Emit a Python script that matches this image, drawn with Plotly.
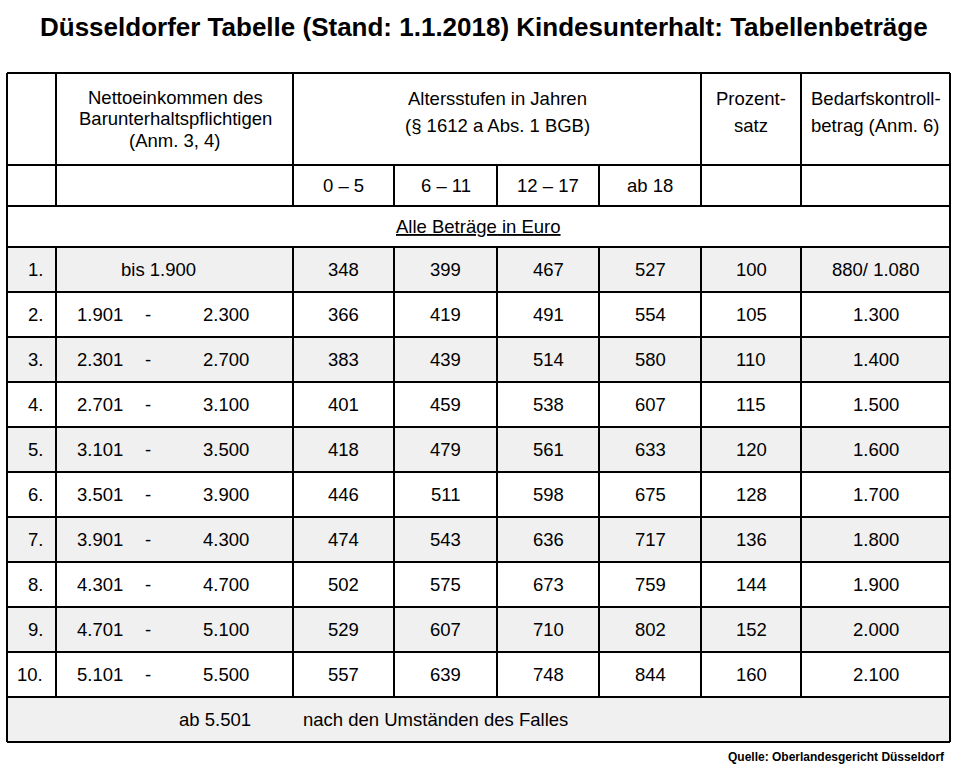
import plotly.graph_objs as go

title = "Düsseldorfer Tabelle (Stand: 1.1.2018) Kindesunterhalt: Tabellenbeträge"
source = "Quelle: Oberlandesgericht Düsseldorf"

stufen = ["1.", "2.", "3.", "4.", "5.", "6.", "7.", "8.", "9.", "10."]
einkommen_von = [None, "1.901", "2.301", "2.701", "3.101", "3.501", "3.901", "4.301", "4.701", "5.101"]
einkommen_bis = ["1.900", "2.300", "2.700", "3.100", "3.500", "3.900", "4.300", "4.700", "5.100", "5.500"]
altersstufen = ["0 – 5", "6 – 11", "12 – 17", "ab 18"]
betrag_0_5 = [348, 366, 383, 401, 418, 446, 474, 502, 529, 557]
betrag_6_11 = [399, 419, 439, 459, 479, 511, 543, 575, 607, 639]
betrag_12_17 = [467, 491, 514, 538, 561, 598, 636, 673, 710, 748]
betrag_ab_18 = [527, 554, 580, 607, 633, 675, 717, 759, 802, 844]
prozentsatz = [100, 105, 110, 115, 120, 128, 136, 144, 152, 160]
bedarfskontrollbetrag = ["880/ 1.080", "1.300", "1.400", "1.500", "1.600",
                         "1.700", "1.800", "1.900", "2.000", "2.100"]

# layout of the grid (pixel units)
col_x = [7, 56, 293, 394, 497, 599, 701, 801, 950]
row_y = [73, 165, 206, 247] + [247 + 45 * (i + 1) for i in range(10)] + [742]
FONT = "Liberation Sans, Arial, sans-serif"
GREY = "#f0f0f0"
LW = 2
BODY = 18.5

shapes = []
annotations = []


def text(x, y, s, size=BODY, anchor="center", bold=False):
    annotations.append(dict(x=x, y=y, xref="x", yref="y", text=f"<b>{s}</b>" if bold else s,
                            showarrow=False, xanchor=anchor, yanchor="middle",
                            font=dict(family=FONT, size=size, color="black")))


def line(x0, y0, x1, y1):
    shapes.append(dict(type="line", xref="x", yref="y", x0=x0, y0=y0, x1=x1, y1=y1,
                       line=dict(color="black", width=LW)))


def mid(a, b):
    return (a + b) / 2


# shaded rows
for i in range(len(stufen)):
    if i % 2 == 0:
        shapes.append(dict(type="rect", xref="x", yref="y", x0=col_x[0], x1=col_x[-1],
                           y0=row_y[3 + i], y1=row_y[4 + i], fillcolor=GREY, line_width=0, layer="below"))
shapes.append(dict(type="rect", xref="x", yref="y", x0=col_x[0], x1=col_x[-1],
                   y0=row_y[-2], y1=row_y[-1], fillcolor=GREY, line_width=0, layer="below"))

# horizontal lines
for y in row_y:
    line(col_x[0], y, col_x[-1], y)
# outer verticals
line(col_x[0], row_y[0], col_x[0], row_y[-1])
line(col_x[-1], row_y[0], col_x[-1], row_y[-1])
# inner verticals
for j, x in enumerate(col_x[1:-1], start=1):
    top = row_y[1] if j in (3, 4, 5) else row_y[0]
    line(x, top, x, row_y[2])
    line(x, row_y[3], x, row_y[-2])

# header texts
hy = row_y[0]
text(175, hy + 24, "Nettoeinkommen des")
text(175, hy + 45, "Barunterhaltspflichtigen")
text(175, hy + 67, "(Anm. 3, 4)")
text(mid(col_x[2], col_x[6]), hy + 25, "Altersstufen in Jahren")
text(mid(col_x[2], col_x[6]), hy + 52, "(§ 1612 a Abs. 1 BGB)")
text(mid(col_x[6], col_x[7]), hy + 25, "Prozent-")
text(mid(col_x[6], col_x[7]), hy + 52, "satz")
text(mid(col_x[7], col_x[8]), hy + 25, "Bedarfskontroll-")
text(mid(col_x[7], col_x[8]), hy + 52, "betrag (Anm. 6)")
for k, a in enumerate(altersstufen):
    text(mid(col_x[2 + k], col_x[3 + k]), mid(row_y[1], row_y[2]), a)
text(478, mid(row_y[2], row_y[3]), "<u>Alle Beträge in Euro</u>")

# body
columns = [betrag_0_5, betrag_6_11, betrag_12_17, betrag_ab_18, prozentsatz, bedarfskontrollbetrag]
for i, s in enumerate(stufen):
    yc = mid(row_y[3 + i], row_y[4 + i])
    text(45, yc, s, anchor="right")
    if einkommen_von[i] is None:
        text(158, yc, "bis " + einkommen_bis[i])
    else:
        text(75, yc, einkommen_von[i], anchor="left")
        text(148, yc, "-")
        text(251, yc, einkommen_bis[i], anchor="right")
    for k, col in enumerate(columns):
        text(mid(col_x[2 + k], col_x[3 + k]), yc, col[i])

# footer row
fy = mid(row_y[-2], row_y[-1])
text(215, fy, "ab 5.501")
text(301, fy, "nach den Umständen des Falles", anchor="left")

# title and source
text(484, 27, title, size=26, bold=True)
text(947, 757, source, size=12, anchor="right", bold=True)

fig = go.Figure()
fig.update_layout(
    width=956, height=772,
    margin=dict(l=0, r=0, t=0, b=0),
    paper_bgcolor="white", plot_bgcolor="white",
    xaxis=dict(range=[0, 956], visible=False, fixedrange=True),
    yaxis=dict(range=[772, 0], visible=False, fixedrange=True),
    shapes=shapes, annotations=annotations, showlegend=False,
)
fig.write_html("out.html", config={"displayModeBar": False},
               post_script="document.body.style.margin='0';")
